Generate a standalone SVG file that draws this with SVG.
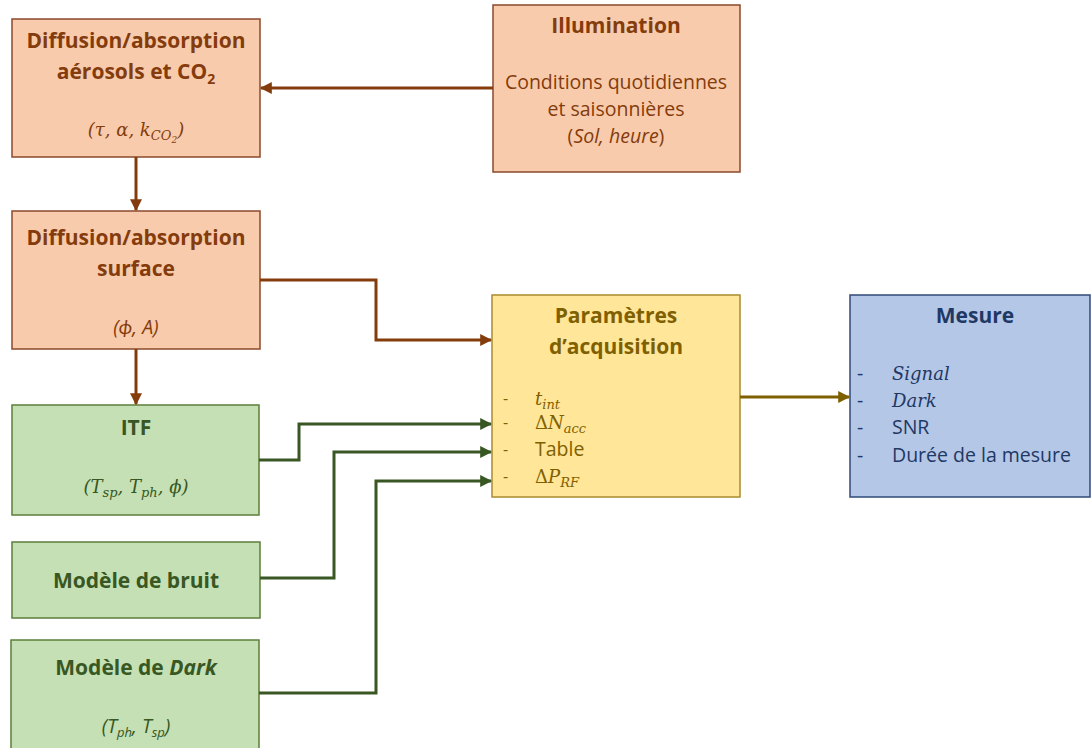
<svg xmlns="http://www.w3.org/2000/svg" width="1091" height="748" viewBox="0 0 1091 748">
<style>
.t{font-family:"Open Sans",Lato,"Liberation Sans",sans-serif;font-weight:bold;font-size:21px;text-anchor:middle}
.r{font-family:"Open Sans",Lato,"Liberation Sans",sans-serif;font-size:19.5px}
.d{font-family:"Open Sans",Lato,"Liberation Sans",sans-serif;font-size:16px}
.m{font-family:"DejaVu Serif","Liberation Serif",serif;font-style:italic;font-size:18px}
.br{fill:#F8CBAD;stroke:#8B4A2B;stroke-width:1.5}
.gr{fill:#C5E0B4;stroke:#5B7F3A;stroke-width:1.5}
.ye{fill:#FFE699;stroke:#A98B2E;stroke-width:1.5}
.bl{fill:#B4C7E7;stroke:#2F4A78;stroke-width:1.5}
.cb{fill:#843C0C}.cg{fill:#385723}.cy{fill:#7F6000}.cn{fill:#1F3864}
.lb{fill:none;stroke:#843C0C;stroke-width:3}
.lg{fill:none;stroke:#385723;stroke-width:3}
.ly{fill:none;stroke:#7F6000;stroke-width:3}
</style>
<defs>
<marker id="ab" viewBox="0 0 10 10" refX="9" refY="5" markerWidth="4" markerHeight="4" orient="auto" markerUnits="strokeWidth"><path d="M0,0 L10,5 L0,10 z" fill="#843C0C"/></marker>
<marker id="ag" viewBox="0 0 10 10" refX="9" refY="5" markerWidth="4" markerHeight="4" orient="auto" markerUnits="strokeWidth"><path d="M0,0 L10,5 L0,10 z" fill="#385723"/></marker>
<marker id="ay" viewBox="0 0 10 10" refX="9" refY="5" markerWidth="4" markerHeight="4" orient="auto" markerUnits="strokeWidth"><path d="M0,0 L10,5 L0,10 z" fill="#7F6000"/></marker>
</defs>
<g id="n-aerosols">
<rect class="br" x="12" y="19" width="248" height="138"/>
<text class="t cb" x="136" y="48">Diffusion/absorption</text>
<text class="t cb" x="136" y="79">aérosols et CO<tspan font-size="14" dy="5">2</tspan></text>
<text class="m cb" x="136" y="136" text-anchor="middle">(τ, α, k<tspan font-size="13" dy="4">CO</tspan><tspan font-size="9" dy="3">2</tspan><tspan dy="-7">)</tspan></text>
</g>
<g id="n-illumination">
<rect class="br" x="493" y="5" width="247" height="167"/>
<text class="t cb" x="616" y="33">Illumination</text>
<text class="r cb" x="616" y="89" text-anchor="middle">Conditions quotidiennes</text>
<text class="r cb" x="616" y="116" text-anchor="middle">et saisonnières</text>
<text class="r cb" x="616" y="143" text-anchor="middle">(<tspan font-style="italic">Sol, heure</tspan>)</text>
</g>
<g id="n-surface">
<rect class="br" x="12" y="211" width="248" height="138"/>
<text class="t cb" x="136" y="245">Diffusion/absorption</text>
<text class="t cb" x="136" y="276">surface</text>
<text class="r cb" x="136" y="334" text-anchor="middle" font-style="italic" font-size="22">(ϕ, A)</text>
</g>
<g id="n-itf">
<rect class="gr" x="12" y="405" width="247" height="110"/>
<text class="t cg" x="136" y="435">ITF</text>
<text class="m cg" x="136" y="493" text-anchor="middle">(T<tspan font-size="13" dy="4">sp</tspan><tspan dy="-4">, T</tspan><tspan font-size="13" dy="4">ph</tspan><tspan dy="-4">, ϕ)</tspan></text>
</g>
<g id="n-bruit">
<rect class="gr" x="12" y="542" width="248" height="76"/>
<text class="t cg" x="136" y="588">Modèle de bruit</text>
</g>
<g id="n-dark">
<rect class="gr" x="11" y="640" width="248" height="112"/>
<text class="t cg" x="136" y="675">Modèle de <tspan font-style="italic">Dark</tspan></text>
<text class="r cg" x="136" y="733" text-anchor="middle" font-style="italic" font-size="20">(T<tspan font-size="13" dy="4">ph</tspan><tspan dy="-4">, T</tspan><tspan font-size="13" dy="4">sp</tspan><tspan dy="-4">)</tspan></text>
</g>
<g id="n-params">
<rect class="ye" x="492" y="295" width="248" height="202"/>
<text class="t cy" x="616" y="323">Paramètres</text>
<text class="t cy" x="616" y="354">d’acquisition</text>
<g class="d cy">
<text x="503" y="404">-</text><text x="503" y="428">-</text><text x="503" y="455">-</text><text x="503" y="482">-</text>
</g>
<text class="r cy" x="535" y="456">Table</text>
<text class="m cy" x="535" y="405">t<tspan font-size="13" dy="4">int</tspan></text>
<text class="m cy" x="535" y="429"><tspan font-style="normal">Δ</tspan>N<tspan font-size="13" dy="4">acc</tspan></text>
<text class="m cy" x="535" y="483"><tspan font-style="normal">Δ</tspan>P<tspan font-size="13" dy="4">RF</tspan></text>
</g>
<g id="n-mesure">
<rect class="bl" x="850" y="295" width="240" height="202"/>
<text class="t cn" x="975" y="323">Mesure</text>
<g class="r cn">
<text x="857" y="380">-</text><text x="857" y="407">-</text><text x="857" y="434">-</text><text x="857" y="462">-</text>
<text x="892" y="434">SNR</text>
<text x="892" y="462">Durée de la mesure</text>
</g>
<text class="m cn" x="892" y="380" font-size="20.5">Signal</text>
<text class="m cn" x="892" y="407" font-size="20.5">Dark</text>
</g>
<g id="connectors">
<path class="lb" d="M493,88 H261" marker-end="url(#ab)"/>
<path class="lb" d="M136,157 V210" marker-end="url(#ab)"/>
<path class="lb" d="M260,280 H376 V340 H491" marker-end="url(#ab)"/>
<path class="lb" d="M136,349 V404" marker-end="url(#ab)"/>
<path class="lg" d="M259,460 H299 V424 H491" marker-end="url(#ag)"/>
<path class="lg" d="M260,578 H334 V452 H491" marker-end="url(#ag)"/>
<path class="lg" d="M259,693 H376 V481 H491" marker-end="url(#ag)"/>
<path class="ly" d="M740,397 H849" marker-end="url(#ay)"/>
</g>
</svg>
